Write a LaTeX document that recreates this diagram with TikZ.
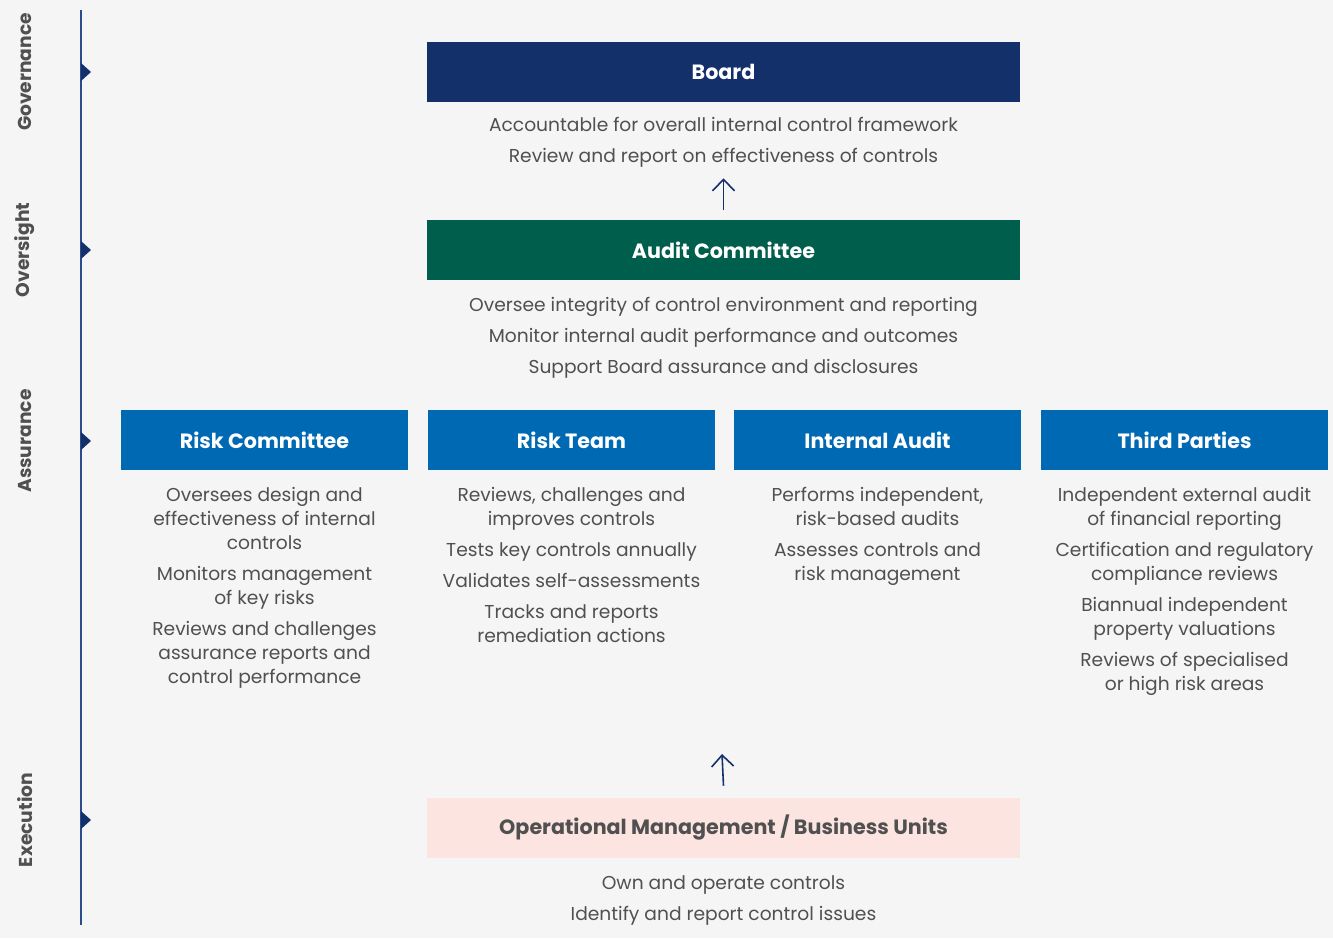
\documentclass[tikz,border=0pt]{standalone}
\usepackage{fontspec}
\setmainfont{Poppins}
\usetikzlibrary{arrows.meta}

\definecolor{navy}{HTML}{14306B}
\definecolor{axisblue}{HTML}{2B4C8C}
\definecolor{acgreen}{HTML}{005E4C}
\definecolor{midblue}{HTML}{0069B4}
\definecolor{opspink}{HTML}{FCE4E0}
\definecolor{txtgrey}{HTML}{505050}
\definecolor{paper}{HTML}{F5F5F5}

\begin{document}
\begin{tikzpicture}[x=0.75pt,y=-0.75pt,
    head/.style={minimum width=444.75pt,minimum height=45pt,inner sep=0pt,
      text=white,font=\bfseries\fontsize{15.5}{18}\selectfont},
    colhead/.style={head,minimum width=215.25pt,fill=midblue},
    notes/.style={align=center,anchor=north,inner sep=0pt,text=txtgrey,
      font=\fontsize{14}{18}\selectfont},
    lvl/.style={rotate=90,text=txtgrey,font=\bfseries\fontsize{14}{16}\selectfont},
    up/.style={-{Straight Barb[length=8.5pt,width=16.5pt]},navy,line width=1.2pt}]
  % page
  \fill[paper] (0,0) rectangle (1333,938);
  \useasboundingbox (0,0) rectangle (1333,938);

  % level axis
  \draw[axisblue,line width=1pt] (81,10) -- (81,925);
  \foreach \y/\lbl in {72/Governance,250/Oversight,441/Assurance,820/Execution}{
    \fill[navy] (81,\y-9) -- (91,\y) -- (81,\y+9) -- cycle;
    \node[lvl] (lvl-\y) at (25,\y) {\lbl};
  }

  % governance
  \node[head,fill=navy] (board) at (723.5,72) {Board};
  \node[notes] (boardnotes) at (723.5,117) {Accountable for overall internal control framework\\[5.25pt]
    Review and report on effectiveness of controls};

  % oversight
  \node[head,fill=acgreen] (audit) at (723.5,250) {Audit Committee};
  \node[notes] (auditnotes) at (723.5,297) {Oversee integrity of control environment and reporting\\[5.25pt]
    Monitor internal audit performance and outcomes\\[5.25pt]
    Support Board assurance and disclosures};
  \draw[up] ([yshift=7.5pt]audit.north) -- ([yshift=-8pt]boardnotes.south);

  % assurance
  \node[colhead] (riskcom) at (264.5,440) {Risk Committee};
  \node[colhead] (riskteam) at (571.5,440) {Risk Team};
  \node[colhead] (intaudit) at (877.5,440) {Internal Audit};
  \node[colhead] (thirdp) at (1184.5,440) {Third Parties};

  \node[notes] (riskcomnotes) at (264.5,487) {Oversees design and\\ effectiveness of internal\\ controls\\[5.25pt]
    Monitors management\\ of key risks\\[5.25pt]
    Reviews and challenges\\ assurance reports and\\ control performance};
  \node[notes] (riskteamnotes) at (571.5,487) {Reviews, challenges and\\ improves controls\\[5.25pt]
    Tests key controls annually\\[5.25pt]
    Validates self-assessments\\[5.25pt]
    Tracks and reports\\ remediation actions};
  \node[notes] (intauditnotes) at (877.5,487) {Performs independent,\\ risk-based audits\\[5.25pt]
    Assesses controls and\\ risk management};
  \node[notes] (thirdpnotes) at (1184.5,487) {Independent external audit\\ of financial reporting\\[5.25pt]
    Certification and regulatory\\ compliance reviews\\[5.25pt]
    Biannual independent\\ property valuations\\[5.25pt]
    Reviews of specialised\\ or high risk areas};

  % execution
  \coordinate (assure) at (722,754);
  \node[head,fill=opspink,text=txtgrey] (ops) at (723.5,828) {Operational Management / Business Units};
  \node[notes] (opsnotes) at (723.5,875) {Own and operate controls\\[5.25pt]
    Identify and report control issues};
  \draw[up] ([yshift=9pt]ops.north) -- (assure);
\end{tikzpicture}
\end{document}
